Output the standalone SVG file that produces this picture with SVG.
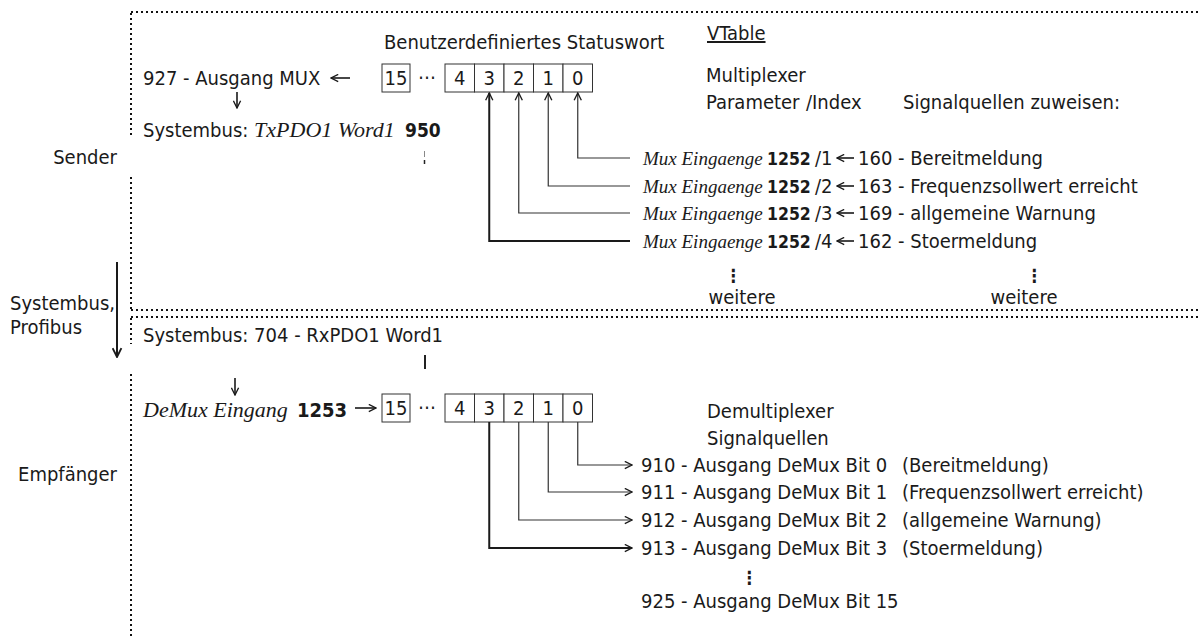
<svg xmlns="http://www.w3.org/2000/svg" width="1201" height="639" viewBox="0 0 1201 639">
<defs>
<style>
.t{font-family:"DejaVu Sans Condensed","DejaVu Sans",sans-serif;font-stretch:condensed;font-size:20px;fill:#1a1a1a}
.i{font-family:"Liberation Serif","DejaVu Serif",serif;font-style:italic;fill:#1a1a1a}
.b{font-family:"DejaVu Sans Condensed","DejaVu Sans",sans-serif;font-stretch:condensed;font-weight:bold;fill:#1a1a1a}
.c{text-anchor:middle}
.e{text-anchor:end}
.dot{fill:none;stroke:#111;stroke-width:2;stroke-dasharray:2 3}
.box{fill:#fff;stroke:#333;stroke-width:1}
.cn{fill:none;stroke:#333;stroke-width:1.2}
.cn3{fill:none;stroke:#1a1a1a;stroke-width:2}
.ar{fill:none;stroke:#1a1a1a;stroke-width:1.6}
</style>
<marker id="ah" viewBox="0 0 10 10" refX="9" refY="5" markerWidth="9" markerHeight="9" orient="auto" markerUnits="userSpaceOnUse">
<path d="M1,1 L9,5 L1,9" fill="none" stroke="#1a1a1a" stroke-width="1.5"/>
</marker>
<marker id="ahb" viewBox="0 0 10 10" refX="9" refY="5" markerWidth="11" markerHeight="11" orient="auto" markerUnits="userSpaceOnUse">
<path d="M1,1 L9,5 L1,9" fill="none" stroke="#1a1a1a" stroke-width="1.7"/>
</marker>
</defs>
<rect width="1201" height="639" fill="#fff"/>

<g id="frame">
<path class="dot" d="M131,12 H1201"/>
<path class="dot" d="M131,13 V138"/>
<path class="dot" d="M131,177 V310"/>
<path class="dot" d="M131,310 H1201"/>
<path class="dot" d="M131,317 H1201"/>
<path class="dot" d="M131,318 V344"/>
<path class="dot" d="M131,374 V636"/>
<path d="M424.5,151 V157" stroke="#888" stroke-width="1"/>
<path d="M424.5,160 V164" stroke="#222" stroke-width="1.5"/>
<path d="M425,355 V369" stroke="#222" stroke-width="2"/>
</g>

<g id="side-labels">
<text class="t e" x="117" y="164">Sender</text>
<text class="t" x="10" y="310">Systembus,</text>
<text class="t" x="10" y="334">Profibus</text>
<text class="t e" x="117" y="481">Empfänger</text>
</g>

<g id="statuswort-sender">
<text class="t" x="384" y="49">Benutzerdefiniertes Statuswort</text>
<rect class="box" x="382" y="64" width="28" height="28"/>
<text class="t c" x="396" y="85">15</text>
<text class="t c" x="427" y="84">⋯</text>
<rect class="box" x="445" y="64" width="29.5" height="28"/>
<rect class="box" x="474.5" y="64" width="29.5" height="28"/>
<rect class="box" x="504" y="64" width="29.5" height="28"/>
<rect class="box" x="533.5" y="64" width="29.5" height="28"/>
<rect class="box" x="563" y="64" width="29.5" height="28"/>
<text class="t c" x="459.75" y="85">4</text>
<text class="t c" x="489.25" y="85">3</text>
<text class="t c" x="518.75" y="85">2</text>
<text class="t c" x="548.25" y="85">1</text>
<text class="t c" x="577.75" y="85">0</text>
</g>

<g id="mux-output">
<text class="t" x="143" y="85">927 - Ausgang MUX</text>
<text x="143" y="137"><tspan class="t">Systembus: </tspan><tspan class="i" font-size="22">TxPDO1 Word1</tspan><tspan class="b" font-size="19" x="405">950</tspan></text>
</g>

<g id="vtable">
<text class="t" x="707" y="40" text-decoration="underline">VTable</text>
<text class="t" x="706" y="82">Multiplexer</text>
<text class="t" x="706" y="109">Parameter</text>
<text class="t" x="806" y="109">/Index</text>
<text class="t" x="903" y="109">Signalquellen zuweisen:</text>
</g>

<g id="mux-rows">
<text x="643" y="165"><tspan class="i" font-size="19">Mux Eingaenge</tspan><tspan class="b" font-size="17.5" x="767">1252</tspan><tspan class="t" x="815">/1</tspan></text>
<text class="t" x="858" y="165">160 - Bereitmeldung</text>
<text x="643" y="193"><tspan class="i" font-size="19">Mux Eingaenge</tspan><tspan class="b" font-size="17.5" x="767">1252</tspan><tspan class="t" x="815">/2</tspan></text>
<text class="t" x="858" y="193">163 - Frequenzsollwert erreicht</text>
<text x="643" y="220"><tspan class="i" font-size="19">Mux Eingaenge</tspan><tspan class="b" font-size="17.5" x="767">1252</tspan><tspan class="t" x="815">/3</tspan></text>
<text class="t" x="858" y="220">169 - allgemeine Warnung</text>
<text x="643" y="248"><tspan class="i" font-size="19">Mux Eingaenge</tspan><tspan class="b" font-size="17.5" x="767">1252</tspan><tspan class="t" x="815">/4</tspan></text>
<text class="t" x="858" y="248">162 - Stoermeldung</text>
<text class="b c" font-size="18" x="733" y="282">⋮</text>
<text class="b c" font-size="18" x="1034" y="282">⋮</text>
<text class="t c" font-size="17" x="742" y="304">weitere</text>
<text class="t c" font-size="17" x="1024" y="304">weitere</text>
</g>

<g id="receiver-input">
<text class="t" x="143" y="342">Systembus: 704 - RxPDO1 Word1</text>
<text x="143" y="417"><tspan class="i" font-size="22">DeMux Eingang</tspan><tspan class="b" font-size="20" x="297">1253</tspan></text>
</g>

<g id="statuswort-empfaenger">
<rect class="box" x="382" y="394" width="28" height="28"/>
<text class="t c" x="396" y="415">15</text>
<text class="t c" x="427" y="414">⋯</text>
<rect class="box" x="445" y="394" width="29.5" height="28"/>
<rect class="box" x="474.5" y="394" width="29.5" height="28"/>
<rect class="box" x="504" y="394" width="29.5" height="28"/>
<rect class="box" x="533.5" y="394" width="29.5" height="28"/>
<rect class="box" x="563" y="394" width="29.5" height="28"/>
<text class="t c" x="459.75" y="415">4</text>
<text class="t c" x="489.25" y="415">3</text>
<text class="t c" x="518.75" y="415">2</text>
<text class="t c" x="548.25" y="415">1</text>
<text class="t c" x="577.75" y="415">0</text>
</g>

<g id="demux">
<text class="t" x="707" y="418">Demultiplexer</text>
<text class="t" x="707" y="445">Signalquellen</text>
<text class="t" x="641" y="472">910 - Ausgang DeMux Bit 0</text>
<text class="t" x="902" y="472">(Bereitmeldung)</text>
<text class="t" x="641" y="499">911 - Ausgang DeMux Bit 1</text>
<text class="t" x="902" y="499">(Frequenzsollwert erreicht)</text>
<text class="t" x="641" y="527">912 - Ausgang DeMux Bit 2</text>
<text class="t" x="902" y="527">(allgemeine Warnung)</text>
<text class="t" x="641" y="555">913 - Ausgang DeMux Bit 3</text>
<text class="t" x="902" y="555">(Stoermeldung)</text>
<text class="b c" font-size="18" x="749" y="584">⋮</text>
<text class="t" x="641" y="608">925 - Ausgang DeMux Bit 15</text>
</g>

<g id="connectors">
<path class="ar" d="M350,78 H331" marker-end="url(#ah)"/>
<path class="ar" d="M237,92 V108" marker-end="url(#ah)"/>
<path class="cn" d="M630,158 H577.75 V93" marker-end="url(#ah)"/>
<path class="cn" d="M630,186 H548.25 V93" marker-end="url(#ah)"/>
<path class="cn" d="M630,213 H518.75 V93" marker-end="url(#ah)"/>
<path class="cn3" d="M630,241 H489.25 V93" marker-end="url(#ah)"/>
<path class="ar" d="M854,158 H837" marker-end="url(#ah)"/>
<path class="ar" d="M854,186 H837" marker-end="url(#ah)"/>
<path class="ar" d="M854,213 H837" marker-end="url(#ah)"/>
<path class="ar" d="M854,241 H837" marker-end="url(#ah)"/>
<path class="cn3" d="M117,262 V357" marker-end="url(#ahb)"/>
<path class="ar" d="M235,378 V395" marker-end="url(#ah)"/>
<path class="ar" d="M355,408 H376" marker-end="url(#ah)"/>
<path class="cn" d="M577.75,422 V465 H632" marker-end="url(#ah)"/>
<path class="cn" d="M548.25,422 V492 H632" marker-end="url(#ah)"/>
<path class="cn" d="M518.75,422 V520 H632" marker-end="url(#ah)"/>
<path class="cn3" d="M489.25,422 V548 H632" marker-end="url(#ah)"/>
</g>
</svg>
